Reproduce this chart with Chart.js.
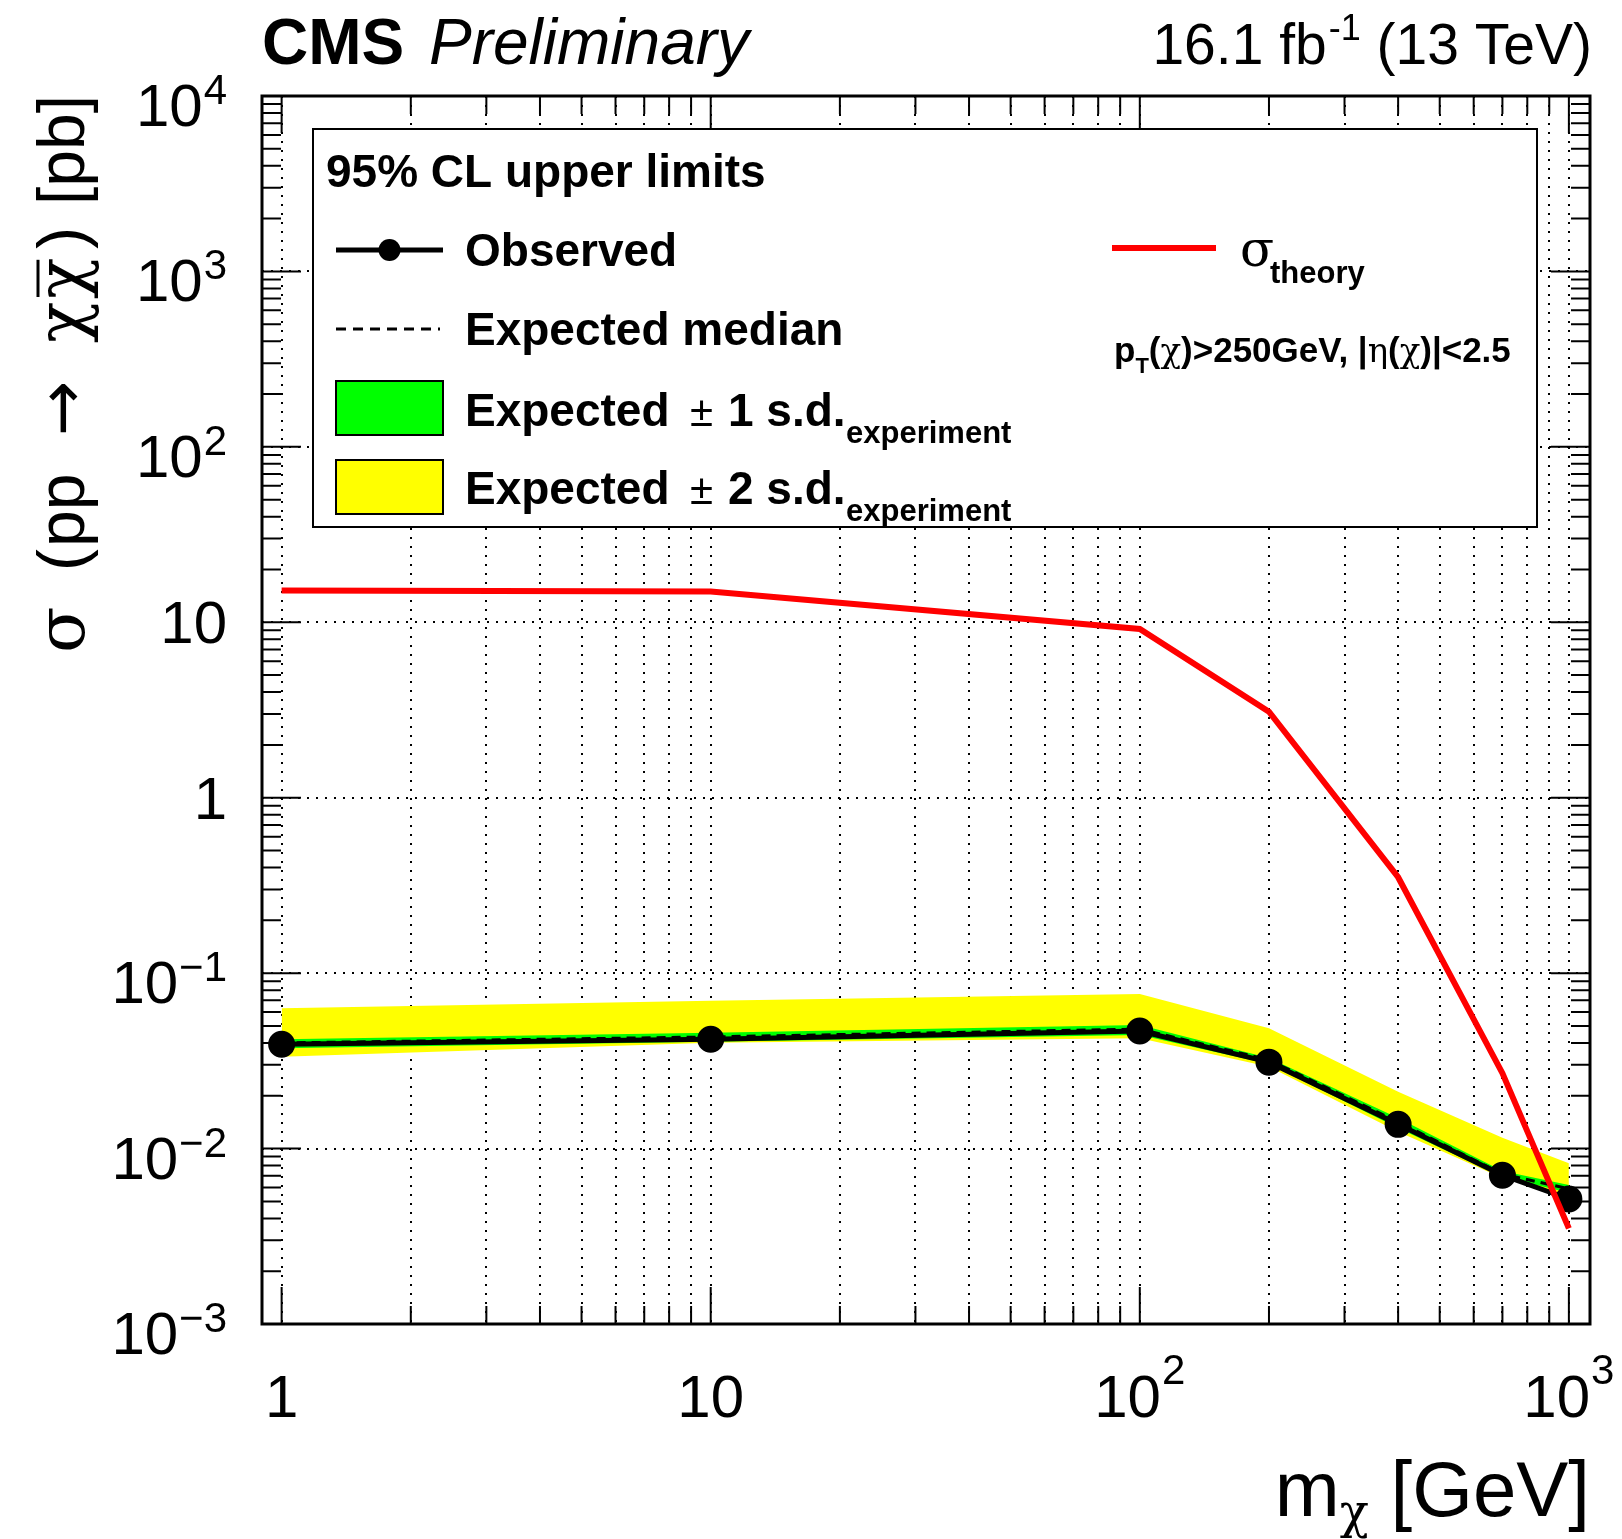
<!DOCTYPE html>
<html>
<head>
<meta charset="utf-8">
<script src="https://cdn.jsdelivr.net/npm/chart.js@4.4.0/dist/chart.umd.min.js"></script>
<style>
  html, body { margin: 0; padding: 0; background: #fff; }
  #wrap { width: 1622px; height: 1539px; }
</style>
</head>
<body>
<div id="wrap"><canvas id="limitCanvas" width="1622" height="1539"></canvas></div>
<script>
// dark matter mass points [GeV]
const massPoints = [1, 10, 100, 200, 400, 700, 1000];

// 95% CL upper limits on the cross section [pb]
const observedLimit = [0.0393, 0.0420, 0.0468, 0.0311, 0.01374, 0.00705, 0.00516];
const expectedMedian = [0.0400, 0.0433, 0.0480, 0.0320, 0.01417, 0.00716, 0.0059];
const expected1sUp = [0.0420, 0.0458, 0.0506, 0.0328, 0.01493, 0.00745, 0.0062];
const expected1sDown = [0.0373, 0.0407, 0.0444, 0.0303, 0.01309, 0.00689, 0.0056];
const expected2sUp = [0.0630, 0.0697, 0.0760, 0.0485, 0.0211, 0.01153, 0.00824];
const expected2sDown = [0.0334, 0.0401, 0.0425, 0.0293, 0.01247, 0.00679, 0.0054];

// theory cross section [pb]
const theoryXsec = [15.2, 15.0, 9.17, 3.09, 0.352, 0.0269, 0.00351];

// axis labels
const xTickValues = [1, 10, 100, 1000];
const xTickBase = ['1', '10', '10', '10'];
const xTickExp = ['', '', '2', '3'];
const yTickValues = [1e-3, 1e-2, 1e-1, 1, 10, 100, 1000, 10000];
const yTickBase = ['10', '10', '10', '1', '10', '10', '10', '10'];
const yTickExp = ['\u22123', '\u22122', '\u22121', '', '', '2', '3', '4'];

const FONT = '"Liberation Sans", Arial, Helvetica, sans-serif';
const GREEK = '"DejaVu Serif", "Liberation Serif", serif';

function toPoints(ys) {
    return massPoints.map((m, i) => ({ x: m, y: ys[i] }));
}

// 1..9 x 10^k ticks for a log axis
function logTicks(fromExp, toExp) {
    const out = [];
    for (let k = fromExp; k <= toExp; k++) {
        for (let d = 1; d <= 9; d++) out.push({ value: d * Math.pow(10, k), major: d === 1 });
    }
    return out;
}

function supLabel(ctx, base, exp, left, baseline, size, supSize, raise) {
    ctx.font = size + 'px ' + FONT;
    ctx.fillText(base, left, baseline);
    if (exp) {
        const w = ctx.measureText(base).width;
        ctx.font = supSize + 'px ' + FONT;
        ctx.fillText(exp, left + w + 1, baseline - raise);
    }
}

function supWidth(ctx, base, exp, size, supSize) {
    ctx.font = size + 'px ' + FONT;
    let w = ctx.measureText(base).width;
    if (exp) {
        ctx.font = supSize + 'px ' + FONT;
        w += ctx.measureText(exp).width + 1;
    }
    return w;
}

// draw a run of [text, font, dy] pieces one after another
function drawRun(ctx, pieces, x0, baseline) {
    let x = x0;
    pieces.forEach(([s, f, dy]) => {
        ctx.font = f;
        ctx.fillText(s, x, baseline + (dy || 0));
        x += ctx.measureText(s).width;
    });
    return x;
}

const decorations = {
    id: 'decorations',
    afterDraw(chart) {
        const { ctx, chartArea: a, scales: { x, y } } = chart;
        ctx.save();
        ctx.fillStyle = '#000';
        ctx.strokeStyle = '#000';
        ctx.textAlign = 'left';
        ctx.textBaseline = 'alphabetic';

        // inner ticks on all four sides
        ctx.lineWidth = 2;
        ctx.beginPath();
        logTicks(-1, 3).forEach(t => {
            if (t.value < x.min || t.value > x.max) return;
            const px = x.getPixelForValue(t.value);
            const len = t.major ? 37 : 18;
            ctx.moveTo(px, a.bottom); ctx.lineTo(px, a.bottom - len);
            ctx.moveTo(px, a.top); ctx.lineTo(px, a.top + len);
        });
        logTicks(-3, 3).forEach(t => {
            if (t.value < y.min || t.value > y.max) return;
            const py = y.getPixelForValue(t.value);
            const len = t.major ? 39 : 19;
            ctx.moveTo(a.left, py); ctx.lineTo(a.left + len, py);
            ctx.moveTo(a.right, py); ctx.lineTo(a.right - len, py);
        });
        ctx.stroke();

        // frame
        ctx.lineWidth = 3;
        ctx.strokeRect(a.left, a.top, a.right - a.left, a.bottom - a.top);

        // x tick labels
        xTickValues.forEach((v, i) => {
            const px = x.getPixelForValue(v);
            const w = supWidth(ctx, xTickBase[i], xTickExp[i], 60, 42);
            supLabel(ctx, xTickBase[i], xTickExp[i], px - w / 2, 1417, 60, 42, 33);
        });

        // y tick labels
        yTickValues.forEach((v, i) => {
            const py = y.getPixelForValue(v);
            const w = supWidth(ctx, yTickBase[i], yTickExp[i], 60, 42);
            const base = yTickExp[i] ? py + 30 : py + 21;
            supLabel(ctx, yTickBase[i], yTickExp[i], 227 - w, base, 60, 42, 22);
        });

        // x title: m_chi [GeV]
        ctx.font = '78px ' + FONT;
        const wGeV = ctx.measureText(' [GeV]').width;
        const wM = ctx.measureText('m').width;
        ctx.font = '48px ' + GREEK;
        const wChi = ctx.measureText('\u03c7').width;
        let xs = 1590 - wGeV - wChi - wM;
        ctx.font = '78px ' + FONT;
        ctx.fillText('m', xs, 1516);
        ctx.font = '48px ' + GREEK;
        ctx.fillText('\u03c7', xs + wM, 1528);
        ctx.font = '78px ' + FONT;
        ctx.fillText(' [GeV]', xs + wM + wChi, 1516);

        // y title: sigma (pp -> chi chibar) [pb]
        ctx.save();
        ctx.translate(84, 657);
        ctx.rotate(-Math.PI / 2);
        const sans66 = '66px ' + FONT;
        const greek = '68px ' + GREEK;
        const ySegs = [
            ['\u03c3', greek, 4], ['(', sans66, 86], ['pp', sans66, 110],
            ['\u2192', '66px "DejaVu Sans", sans-serif', 221],
            ['\u03c7', greek, 314], ['\u03c7', greek, 358],
            [')', sans66, 408], ['[pb]', sans66, 452]
        ];
        ySegs.forEach(([s, f, t]) => { ctx.font = f; ctx.fillText(s, t, 0); });
        ctx.font = greek;
        const wc = ctx.measureText('\u03c7').width;
        ctx.lineWidth = 3;
        ctx.beginPath();
        ctx.moveTo(360, -46); ctx.lineTo(356 + wc, -46);
        ctx.stroke();
        ctx.restore();

        // header
        ctx.font = 'bold 64px ' + FONT;
        ctx.fillText('CMS', 262, 64);
        ctx.font = 'italic 64px ' + FONT;
        ctx.fillText('Preliminary', 429, 64);
        ctx.font = '57px ' + FONT;
        const wTev = ctx.measureText(' (13 TeV)').width;
        const wFb = ctx.measureText('16.1 fb').width;
        ctx.font = '36px ' + FONT;
        const wInv = ctx.measureText('-1').width;
        let hx = 1590 - wTev - wInv - wFb;
        ctx.font = '57px ' + FONT;
        ctx.fillText('16.1 fb', hx, 64);
        ctx.font = '36px ' + FONT;
        ctx.fillText('-1', hx + wFb + 2, 40);
        ctx.font = '57px ' + FONT;
        ctx.fillText(' (13 TeV)', hx + wFb + wInv + 2, 64);

        // legend box
        ctx.lineWidth = 2;
        ctx.fillStyle = '#fff';
        ctx.fillRect(313, 129, 1224, 398);
        ctx.strokeRect(313, 129, 1224, 398);
        ctx.fillStyle = '#000';
        ctx.font = 'bold 46px ' + FONT;
        ctx.fillText('95% CL upper limits', 326, 187);

        // observed entry
        ctx.lineWidth = 5;
        ctx.beginPath();
        ctx.moveTo(336, 250); ctx.lineTo(443, 250);
        ctx.stroke();
        ctx.beginPath();
        ctx.arc(389.5, 250, 11, 0, Math.PI * 2);
        ctx.fill();
        ctx.fillText('Observed', 465, 266);

        // expected median entry
        ctx.lineWidth = 3;
        ctx.setLineDash([10, 7]);
        ctx.beginPath();
        ctx.moveTo(336, 329); ctx.lineTo(440, 329);
        ctx.stroke();
        ctx.setLineDash([]);
        ctx.fillText('Expected median', 465, 345);

        // band entries
        const bands = [['#00ff00', 381, '1', 426], ['#ffff00', 460, '2', 504]];
        bands.forEach(([col, top, n, base]) => {
            ctx.fillStyle = col;
            ctx.fillRect(336, top, 107, 54);
            ctx.lineWidth = 2;
            ctx.strokeRect(336, top, 107, 54);
            ctx.fillStyle = '#000';
            ctx.font = 'bold 46px ' + FONT;
            ctx.fillText('Expected', 465, base);
            ctx.font = '42px ' + FONT;
            ctx.fillText('\u00b1', 690, base);
            ctx.font = 'bold 46px ' + FONT;
            ctx.fillText(n + ' s.d.', 728, base);
            ctx.font = 'bold 31px ' + FONT;
            ctx.fillText('experiment', 846, base + 17);
        });

        // theory entry
        ctx.strokeStyle = '#ff0000';
        ctx.lineWidth = 6;
        ctx.beginPath();
        ctx.moveTo(1112, 248); ctx.lineTo(1216, 248);
        ctx.stroke();
        ctx.font = '50px ' + GREEK;
        ctx.fillText('\u03c3', 1240, 266);
        ctx.font = 'bold 31px ' + FONT;
        ctx.fillText('theory', 1270, 283);

        // selection text
        const b35 = 'bold 35px ' + FONT;
        const g35 = '34px ' + GREEK;
        drawRun(ctx, [
            ['p', b35], ['T', 'bold 22px ' + FONT, 11], ['(', b35], ['\u03c7', g35], [')>250GeV, |', b35],
            ['\u03b7', g35], ['(', b35], ['\u03c7', g35], [')|<2.5', b35]
        ], 1114, 362);

        ctx.restore();
    }
};

const ctx = document.getElementById('limitCanvas').getContext('2d');
new Chart(ctx, {
    type: 'line',
    data: {
        datasets: [
            {
                label: 'theory',
                data: toPoints(theoryXsec),
                borderColor: '#ff0000',
                borderWidth: 6,
                pointRadius: 0,
                fill: false
            },
            {
                label: 'Observed',
                data: toPoints(observedLimit),
                borderColor: '#000',
                borderWidth: 5,
                pointRadius: 11,
                pointBackgroundColor: '#000',
                pointBorderColor: '#000',
                fill: false
            },
            {
                label: 'Expected median',
                data: toPoints(expectedMedian),
                borderColor: '#000',
                borderWidth: 3,
                borderDash: [9, 6],
                pointRadius: 0,
                fill: false
            },
            {
                label: '1 s.d. up',
                data: toPoints(expected1sUp),
                borderColor: 'rgba(0,0,0,0)',
                borderWidth: 0,
                pointRadius: 0,
                backgroundColor: '#00ff00',
                fill: '+1'
            },
            {
                label: '1 s.d. down',
                data: toPoints(expected1sDown),
                borderColor: 'rgba(0,0,0,0)',
                borderWidth: 0,
                pointRadius: 0,
                fill: false
            },
            {
                label: '2 s.d. up',
                data: toPoints(expected2sUp),
                borderColor: 'rgba(0,0,0,0)',
                borderWidth: 0,
                pointRadius: 0,
                backgroundColor: '#ffff00',
                fill: '+1'
            },
            {
                label: '2 s.d. down',
                data: toPoints(expected2sDown),
                borderColor: 'rgba(0,0,0,0)',
                borderWidth: 0,
                pointRadius: 0,
                fill: false
            }
        ]
    },
    options: {
        responsive: false,
        animation: false,
        layout: {
            padding: { left: 262, right: 32, top: 96, bottom: 215 }
        },
        plugins: {
            legend: { display: false },
            tooltip: { enabled: false }
        },
        scales: {
            x: {
                type: 'logarithmic',
                min: 0.9,
                max: 1120,
                afterBuildTicks: axis => {
                    axis.ticks = logTicks(0, 3).filter(t => t.value <= 1000);
                },
                ticks: { display: false },
                grid: { color: '#000', lineWidth: 2, drawTicks: false },
                border: { display: false, dash: [2, 7] }
            },
            y: {
                type: 'logarithmic',
                min: 1e-3,
                max: 1e4,
                afterBuildTicks: axis => {
                    axis.ticks = yTickValues.map(v => ({ value: v }));
                },
                ticks: { display: false },
                grid: { color: '#000', lineWidth: 2, drawTicks: false },
                border: { display: false, dash: [2, 7] }
            }
        }
    },
    plugins: [decorations]
});
</script>
</body>
</html>
